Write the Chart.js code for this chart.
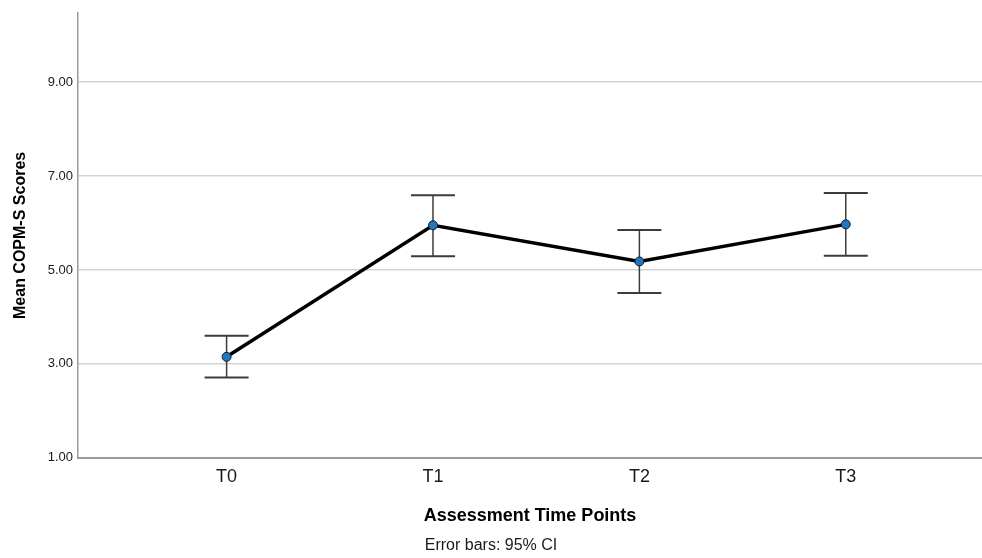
<!DOCTYPE html>
<html>
<head>
<meta charset="utf-8">
<script src="https://cdn.jsdelivr.net/npm/chart.js@4/dist/chart.umd.min.js"></script>
<style>
  html, body { margin: 0; padding: 0; background: #ffffff; }
  #wrap { width: 982px; height: 558px; position: relative; }
</style>
</head>
<body>
<div id="wrap"><canvas id="c" width="982" height="558"></canvas></div>
<script>
// ---- data ----
const categories = ["T0", "T1", "T2", "T3"];
const meanScores = [3.15, 5.95, 5.18, 5.97];
const ciLower    = [2.71, 5.29, 4.51, 5.30];
const ciUpper    = [3.60, 6.59, 5.85, 6.64];
const yTickValues = [1, 3, 5, 7, 9];
const xTitle = "Assessment Time Points";
const yTitle = "Mean COPM-S Scores";
const footnote = "Error bars: 95% CI";

const FONT = "'Liberation Sans', Arial, Helvetica, sans-serif";

const errorBarPlugin = {
  id: 'errorBars',
  beforeDatasetsDraw(chart) {
    const ctx = chart.ctx;
    const xs = chart.scales.x, ys = chart.scales.y;
    const capHalf = 22;
    ctx.save();
    ctx.strokeStyle = '#3c3c3c';
    categories.forEach((c, i) => {
      const x = xs.getPixelForValue(i);
      const yl = ys.getPixelForValue(ciLower[i]);
      const yu = ys.getPixelForValue(ciUpper[i]);
      ctx.lineWidth = 1.5;
      ctx.beginPath();
      ctx.moveTo(x, yl); ctx.lineTo(x, yu);
      ctx.stroke();
      ctx.lineWidth = 2;
      ctx.beginPath();
      ctx.moveTo(x - capHalf, yl); ctx.lineTo(x + capHalf, yl);
      ctx.moveTo(x - capHalf, yu); ctx.lineTo(x + capHalf, yu);
      ctx.stroke();
    });
    ctx.restore();
  }
};

new Chart(document.getElementById('c'), {
  type: 'line',
  data: {
    datasets: [{
      data: meanScores.map((v, i) => ({ x: i, y: v })),
      borderColor: '#000000',
      borderWidth: 3.5,
      pointRadius: 4.5,
      pointBackgroundColor: '#1f77c4',
      pointBorderColor: '#1a1a1a',
      pointBorderWidth: 1,
      tension: 0,
      fill: false
    }]
  },
  options: {
    responsive: false,
    animation: false,
    devicePixelRatio: 1,
    layout: { autoPadding: false, padding: { top: 13, right: 0, left: 0, bottom: 0 } },
    plugins: {
      legend: { display: false },
      tooltip: { enabled: false },
      title: { display: false },
      subtitle: {
        display: true,
        position: 'bottom',
        text: footnote,
        color: '#1a1a1a',
        font: { family: FONT, size: 16, weight: 'normal' },
        padding: { top: 0, bottom: 3 }
      }
    },
    scales: {
      x: {
        type: 'linear',
        min: -0.72,
        max: 3.66,
        afterBuildTicks(scale) { scale.ticks = categories.map((c, i) => ({ value: i })); },
        afterFit(scale) { scale.height = 78; },
        ticks: {
          callback: (v) => categories[v] ?? '',
          color: '#1a1a1a',
          padding: 8,
          maxRotation: 0,
          autoSkip: false,
          font: { family: FONT, size: 18 }
        },
        grid: { display: false, drawTicks: false },
        border: { display: true, color: '#9a9a9a', width: 2 },
        title: {
          display: true,
          text: xTitle,
          color: '#000000',
          font: { family: FONT, size: 18, weight: 'bold' },
          padding: { top: 0, bottom: 9 }
        }
      },
      y: {
        type: 'linear',
        min: 1,
        max: 10.47,
        afterBuildTicks(scale) { scale.ticks = yTickValues.map(v => ({ value: v })); },
        afterFit(scale) { scale.width = 78; },
        ticks: {
          callback: (v) => Number(v).toFixed(2),
          color: '#1a1a1a',
          padding: 5,
          font: { family: FONT, size: 13 }
        },
        grid: { color: '#d4d4d4', lineWidth: 1.5, drawTicks: false },
        border: { display: true, color: '#9a9a9a', width: 1.5 },
        title: {
          display: true,
          text: yTitle,
          color: '#000000',
          font: { family: FONT, size: 16, weight: 'bold' },
          padding: { top: 11, bottom: 0 }
        }
      }
    }
  },
  plugins: [errorBarPlugin]
});
</script>
</body>
</html>
